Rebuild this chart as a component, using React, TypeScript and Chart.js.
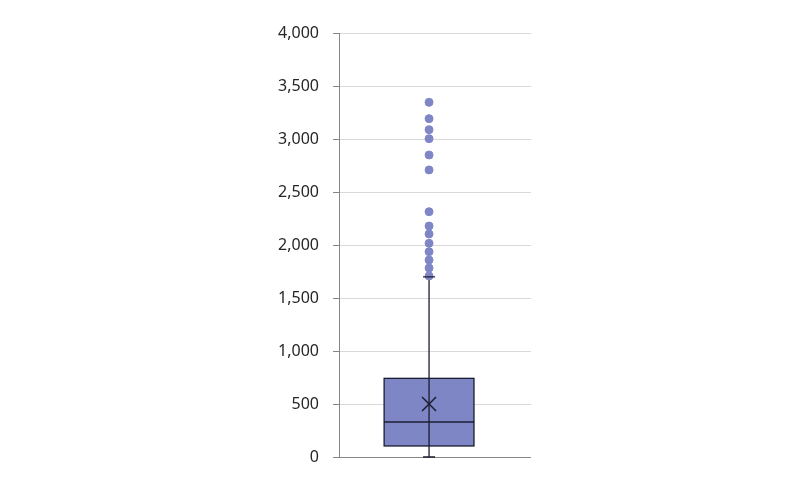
import { useEffect, useRef } from 'react';
import { Chart, registerables } from 'chart.js';

Chart.register(...registerables);

// box statistics
const boxStats = { min: 0, q1: 104, median: 330, q3: 742, max: 1700, mean: 500 };
const outliers = [1708, 1783, 1858, 1937, 2016, 2104, 2179, 2314, 2708, 2849, 3003, 3088, 3192, 3346];
const yTicks = [0, 500, 1000, 1500, 2000, 2500, 3000, 3500, 4000];

// box sits slightly left of the plot centre (x scale 0..100)
const boxCenter = 46.9;
const boxHalf = 23.4;

const FILL = '#7f86c6';
const LINE = '#1c1c30';

const boxPlugin = {
  id: 'boxPlot',
  beforeDatasetsDraw(chart: any) {
    const { ctx, scales } = chart;
    const x = scales.x;
    const y = scales.y;
    const cx = x.getPixelForValue(boxCenter);
    const left = x.getPixelForValue(boxCenter - boxHalf);
    const right = x.getPixelForValue(boxCenter + boxHalf);
    const yq1 = y.getPixelForValue(boxStats.q1);
    const yq3 = y.getPixelForValue(boxStats.q3);
    const ymed = y.getPixelForValue(boxStats.median);
    const ymin = y.getPixelForValue(boxStats.min);
    const ymax = y.getPixelForValue(boxStats.max);
    const ymean = y.getPixelForValue(boxStats.mean);

    ctx.save();
    ctx.strokeStyle = LINE;
    ctx.lineWidth = 1.3;

    // whisker line
    ctx.beginPath();
    ctx.moveTo(cx, ymax);
    ctx.lineTo(cx, ymin);
    ctx.stroke();

    // box
    ctx.fillStyle = FILL;
    ctx.fillRect(left, yq3, right - left, yq1 - yq3);
    ctx.strokeRect(left, yq3, right - left, yq1 - yq3);

    // whisker through box
    ctx.beginPath();
    ctx.moveTo(cx, yq3);
    ctx.lineTo(cx, yq1);
    ctx.stroke();

    // median
    ctx.beginPath();
    ctx.moveTo(left, ymed);
    ctx.lineTo(right, ymed);
    ctx.stroke();

    // mean marker
    ctx.lineWidth = 1.5;
    ctx.beginPath();
    ctx.moveTo(cx - 7, ymean - 7);
    ctx.lineTo(cx + 7, ymean + 7);
    ctx.moveTo(cx + 7, ymean - 7);
    ctx.lineTo(cx - 7, ymean + 7);
    ctx.stroke();
    ctx.restore();
  },
  afterDatasetsDraw(chart: any) {
    const { ctx, scales } = chart;
    const cx = scales.x.getPixelForValue(boxCenter);
    const ymin = scales.y.getPixelForValue(boxStats.min);
    const ymax = scales.y.getPixelForValue(boxStats.max);
    // whisker caps, drawn over the lowest outlier like the original
    ctx.save();
    ctx.strokeStyle = LINE;
    ctx.lineWidth = 1.3;
    ctx.beginPath();
    ctx.moveTo(cx - 6, ymax);
    ctx.lineTo(cx + 6, ymax);
    ctx.moveTo(cx - 6, ymin);
    ctx.lineTo(cx + 6, ymin);
    ctx.stroke();
    ctx.restore();
  },
};

export default function App() {
  const canvasRef = useRef<HTMLCanvasElement>(null);
  const chartRef = useRef<Chart | null>(null);

  useEffect(() => {
    if (!canvasRef.current) return;
    if (chartRef.current) chartRef.current.destroy();

    chartRef.current = new Chart(canvasRef.current.getContext('2d')!, {
      type: 'scatter',
      data: {
        datasets: [
          {
            data: outliers.map(v => ({ x: boxCenter, y: v })),
            backgroundColor: FILL,
            borderColor: FILL,
            pointRadius: 4,
            pointHoverRadius: 4,
          },
        ],
      },
      options: {
        animation: false,
        responsive: true,
        maintainAspectRatio: false,
        layout: { padding: { left: 0, right: 279, top: 33, bottom: 36 } },
        plugins: { legend: { display: false }, tooltip: { enabled: false } },
        scales: {
          x: { type: 'linear', min: 0, max: 100, display: false },
          y: {
            min: 0,
            max: 4000,
            afterBuildTicks: (scale: any) => {
              scale.ticks = yTicks.map(v => ({ value: v }));
            },
            afterFit: (scale: any) => {
              scale.width = 339;
            },
            border: { display: true, color: '#868686', width: 1 },
            grid: {
              color: (c: any) => (c.tick && c.tick.value === 0 ? '#868686' : '#d9d9d9'),
              tickColor: '#868686',
              tickLength: 6,
              lineWidth: 1,
            },
            ticks: {
              padding: 14,
              color: '#262626',
              font: { family: 'Noto Sans', size: 16 },
              callback: (v: any) => Number(v).toLocaleString('en-US'),
            },
          },
        },
      },
      plugins: [boxPlugin],
    });

    return () => chartRef.current?.destroy();
  }, []);

  return (
    <div style={{ position: 'fixed', left: 0, top: 0, width: 810, height: 493, background: '#fff' }}>
      <canvas ref={canvasRef} />
    </div>
  );
}
